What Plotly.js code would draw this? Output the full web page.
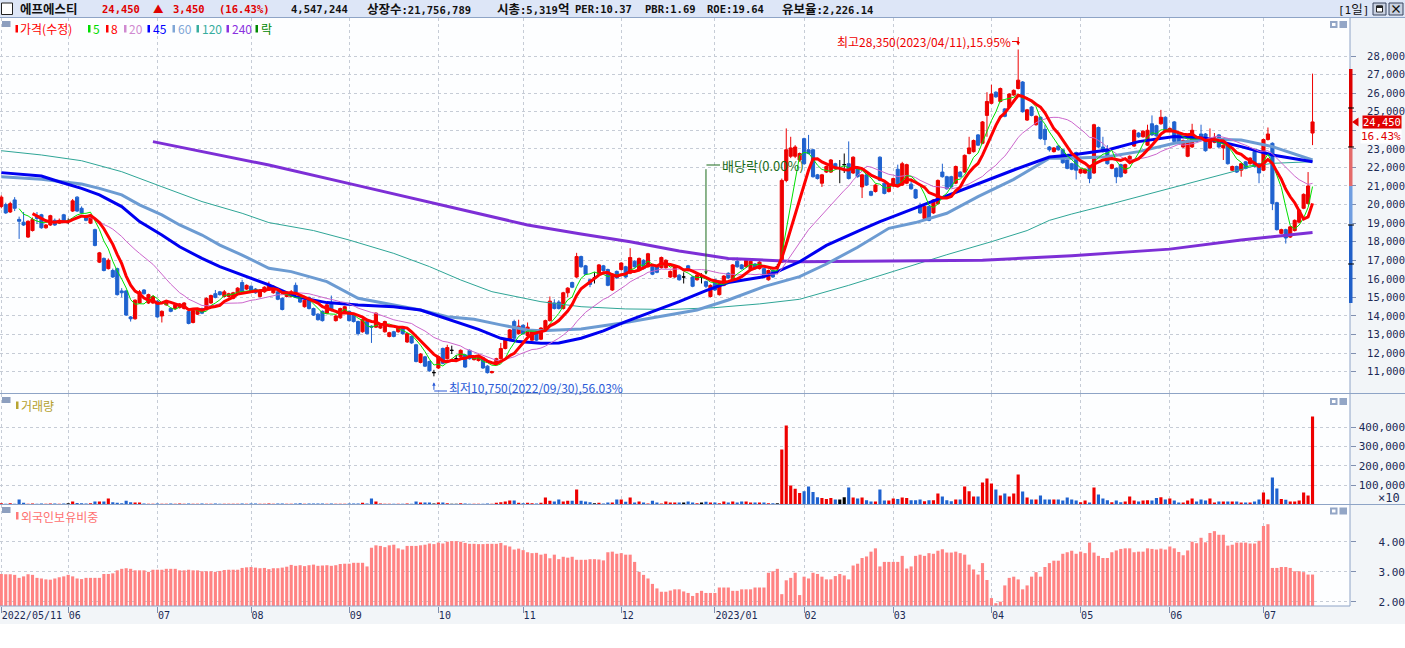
<!DOCTYPE html>
<html><head><meta charset="utf-8">
<script src="https://cdn.plot.ly/plotly-3.0.1.min.js"></script>
<style>html,body{margin:0;padding:0;background:#fff;overflow:hidden}#chart{width:1405px;height:648px}</style>
</head><body><div id="chart"></div>
<script>
// ---------- DATA ----------
const stockName = '에프에스티';
const lastPrice = 24450, prevClose = 21000, changeAbs = '3,450', changePct = '16.43%';
const todayVolume = '4,547,244';
const infoTexts = ['상장수:21,756,789', '시총:5,319억', 'PER:10.37', 'PBR:1.69', 'ROE:19.64', '유보율:2,226.14'];

// trading-day index of each month start, and the labels shown on the date axis
const monthStartIdx = [0,15,35,56,78,98,117,139,160,180,200,222,242,262,283];
const monthLabels = ['2022/05/11','06','07','08','09','10','11','12','2023/01','02','03','04','05','06','07'];

const open = [19900,20000,19600,20250,19200,19050,18250,18600,19400,19450,
18750,18900,19150,19000,19450,19100,19650,20400,19800,19400,
19000,18650,16900,17100,16550,16450,16550,15350,15350,13950,
13850,14700,15400,14700,14700,14800,14000,14600,14400,14400,
14450,14400,14250,13650,14100,14400,14400,14700,15200,15300,
15050,15050,14950,15200,15800,15450,15600,15450,15050,15300,
15400,15250,15300,14950,15050,15050,15650,15050,14500,15000,
14400,14100,14250,14150,14700,13750,13900,14200,14250,14050,
13700,13150,13700,13450,13400,13350,13150,12900,13150,13150,
13350,12600,12900,12450,11500,11800,11550,10950,11200,12250,
11700,12150,11700,11800,11900,12150,11650,11600,11750,11300,
10950,11450,11700,12250,12700,13700,13050,13500,12950,12700,
13050,12750,13300,13750,14700,14750,14400,15250,15800,16100,
17200,16700,15950,16050,16250,16700,16500,15400,16400,16500,
16650,16300,16950,16450,17000,16650,16650,16650,16600,16600,
16100,16100,16200,16100,16700,16100,15950,16100,15850,15050,
15950,15150,15650,16300,15950,16950,16750,16650,16500,16800,
16550,16550,15950,16450,16650,16900,21300,22600,22600,22400,
23550,22950,22950,21600,21150,21750,21750,22200,21950,22150,
22200,21700,21950,20950,21600,20700,20700,22550,21150,20700,
21000,21900,21050,21150,21100,20800,19950,19250,19900,19550,
20050,21750,21500,21500,21150,21750,21750,22750,22850,23750,
23300,24800,25450,26050,25550,25150,25250,25900,26250,26600,
24550,25250,24300,24700,24050,23100,22850,23150,22950,22400,
22200,22800,21700,21700,22050,21700,24150,23100,23000,21950,
21950,22150,21700,22400,23150,23850,23650,23200,24350,24250,
24350,24700,23950,24450,23850,23100,22600,23100,23650,23800,
23800,23050,23350,23750,23050,23150,21850,22050,21850,22300,
22200,22850,22200,21850,23500,23300,20100,18450,18650,18250,
18600,19050,19800,20050,23850];

const high = [20500,20100,20150,20400,19350,19600,19150,19300,19600,19500,
18950,19450,19250,19250,19500,19250,20300,20450,19900,19450,
19450,18700,17450,17150,17100,16550,16600,15500,15400,14000,
14900,15400,15450,15200,15100,14850,14300,14750,14450,14650,
14700,14750,14300,14350,14350,14450,15000,15150,15400,15350,
15400,15250,15300,15550,15950,15700,15650,15500,15450,15600,
15850,15650,15350,15000,15300,15400,15800,15100,14900,15050,
14450,14150,14300,14700,15100,14050,14450,14550,14300,14100,
13750,13850,13750,13500,14200,13600,13750,13150,13200,13400,
13400,13100,12950,12500,12000,11850,11600,11100,11850,12300,
12450,12400,11900,12200,11950,12200,11850,11850,11800,11350,
11050,11750,12550,12800,13300,13800,13800,13550,13650,13300,
13100,13400,13800,15050,14900,14850,15300,15550,15850,17400,
17250,16750,16000,16350,16800,16750,16550,16300,16450,16900,
16700,17650,17000,17150,17050,17400,16700,16700,17200,17050,
16450,16700,16250,16350,16750,16150,16250,16300,15900,15700,
16000,15800,16200,16350,16800,17150,16800,17050,17000,16850,
16950,16600,16500,16500,16800,21400,24100,23650,23200,22800,
23600,23750,23000,21650,21650,22100,22450,22250,22400,22750,
23400,22600,22000,21650,21650,20750,21100,22600,21200,21100,
21450,22150,22300,22200,21400,20850,20100,19950,19950,20300,
21350,22200,21550,21550,22100,21800,22700,23650,23500,23800,
24500,26050,26450,26100,26300,25200,26000,26200,28350,26650,
25150,25300,24800,24750,24300,23150,23100,23200,23000,22450,
22250,22850,21950,21950,22100,24350,24200,23650,23200,22200,
22000,22200,22200,22650,24050,23900,24000,24300,24800,24300,
25100,24750,24150,24500,23900,23500,23500,24350,23700,24300,
23850,24100,23850,23800,23250,23200,22100,22100,22250,22350,
22550,22900,22250,23550,24150,23350,20150,18700,18700,18850,
19200,19750,20600,21750,27050];

const low = [19800,19500,19550,19650,18150,18850,18200,18550,18950,18700,
18700,18850,18850,18950,19000,18950,19600,19600,19500,19100,
18950,17750,16850,16400,16500,16050,15100,15000,14000,13700,
13800,14650,15150,14650,14650,13900,13650,14550,14200,14350,
14400,14350,13550,13600,14050,14100,14350,14650,14950,15100,
15000,15000,14900,15150,15250,15400,15250,15200,15000,15250,
15350,15200,14850,14300,15000,15000,15100,14700,14450,14350,
14000,13750,13700,14100,14250,13700,13850,14150,13700,13650,
12950,13100,13000,12550,13350,13300,13100,12850,12850,13100,
13000,12550,12500,11500,11450,11250,11000,10750,11150,11400,
11650,11950,11550,11750,11200,11650,11600,11550,11150,10900,
10900,11400,11650,12200,12650,12750,13000,13000,12900,12650,
12650,12700,13250,13700,14350,14350,14350,15000,15500,16050,
16600,16200,15550,15750,16200,16400,15600,15350,16000,16450,
16050,16250,16600,16400,16500,16600,16200,16300,16550,16550,
16050,16050,15900,15750,16400,15550,15900,15750,15500,15000,
15350,15100,15600,16000,15900,16600,16500,16600,16450,16500,
16500,16050,15900,16050,16250,16850,21200,22500,22500,22300,
22150,22700,21450,21350,20950,21700,21700,21900,21150,21700,
21350,21650,21450,20350,21000,20450,20650,21250,20550,20650,
20950,20950,21000,21100,20800,20300,19500,19200,19100,19500,
20000,21450,20800,20900,21100,21450,21700,22700,22800,23150,
23250,23650,25400,25750,25500,24700,25200,25850,26200,24950,
24500,24750,24250,23500,23200,22850,22800,22900,22200,21900,
21850,21350,21650,21650,21150,21650,23050,22800,22150,21900,
21150,21450,21650,22350,23100,23600,23600,23150,23700,23650,
24300,23900,23900,23350,23250,23050,22550,23050,23350,23600,
22850,23000,23300,23050,22400,22150,21800,21700,21500,21900,
22150,22000,21150,21800,23450,19700,18600,18400,17900,18200,
18550,19000,19750,20000,23200];

const close = [20400,19550,20050,19800,19100,18900,19100,19200,19250,18750,
18900,19400,18900,19150,19100,19100,20200,19650,19550,19150,
19400,17800,17400,16450,17000,16100,15150,15250,14050,13850,
14850,15300,15200,15150,15050,13950,14250,14700,14250,14600,
14650,14700,13600,14300,14300,14150,14950,15100,15000,15150,
15300,15200,15250,15500,15300,15650,15300,15250,15400,15550,
15700,15600,14900,14350,15250,15300,15150,14750,14850,14400,
14050,13800,13750,14600,14300,14000,14400,14500,13750,13700,
13050,13800,13050,13400,14150,13500,13700,13100,12900,13350,
13050,13050,12550,11550,11950,11300,11050,10950,11800,11450,
12300,12150,11700,12150,11250,11700,11800,11800,11200,10950,
11000,11700,12250,12750,13250,12800,13450,13050,13400,13250,
12700,13350,13750,14800,14400,14400,15250,15500,15550,17200,
16650,16250,15700,16050,16750,16450,15650,16250,16050,16850,
16100,17150,16650,17100,16550,17350,16250,16350,17150,17000,
16400,16650,15950,16100,16450,15600,16200,16100,15600,15650,
15400,15750,16150,16050,16750,16650,16550,17000,16950,16550,
16900,16100,16450,16100,16650,21300,22950,23050,23100,22750,
22200,22750,21500,21400,21600,22050,22400,21950,21950,22150,
21400,22550,21500,21600,21050,20500,21050,21300,20600,21050,
21400,21000,22200,22150,20850,20350,19550,19900,19150,20250,
21300,21500,20850,20950,22050,21500,22650,23050,23450,23200,
24450,25550,25950,25800,26250,24750,25950,26150,26700,25000,
25100,24800,24750,23550,23500,22950,23050,22950,22250,21950,
21900,21850,21900,21900,21400,24300,23100,22850,22200,22150,
21500,21500,22150,22600,24000,23650,23950,24000,23750,23700,
24700,23950,24100,23400,23300,23450,23450,24000,23400,23650,
22900,23550,23600,23100,23200,22200,22050,21750,22200,21950,
22500,22050,21700,23500,23800,20050,18650,18650,18200,18800,
19150,19700,20550,21000,24450];

// volume in axis units (x10 shares)
const volume = [7000,4000,7000,4000,26000,9000,4000,5000,4000,5000,
4000,5000,5000,4000,5000,7000,15000,8000,6000,5000,
6000,15000,15000,15000,31000,12000,9000,6000,20000,12000,
10000,10000,5000,4000,4000,5000,4000,4000,5000,4000,
5000,4000,5000,4000,4000,5000,4000,4000,5000,4000,
4000,4000,4000,4000,5000,4000,5000,5000,4000,4000,
5000,4000,5000,5000,4000,4000,5000,7000,4000,5000,
5000,5000,5000,4000,5000,4000,4000,4000,5000,5000,
5000,9000,5000,31000,15000,5000,4000,4000,4000,4000,
4000,5000,4000,15000,10000,10000,10000,5000,10000,10000,
6000,4000,4000,6000,5000,4000,4000,4000,4000,5000,
4000,9000,12000,15000,21000,21000,9000,6000,9000,6000,
5000,9000,36000,20000,15000,26000,15000,20000,20000,78000,
20000,15000,12000,7000,9000,5000,10000,10000,26000,26000,
14000,36000,10000,15000,10000,5000,20000,10000,5000,15000,
10000,10000,10000,10000,15000,10000,6000,10000,14000,10000,
10000,7000,15000,10000,15000,10000,15000,15000,10000,10000,
10000,10000,7000,7000,7000,284000,409000,98000,81000,59000,
69000,93000,64000,38000,33000,29000,33000,26000,26000,38000,
88000,36000,31000,36000,22000,16000,16000,78000,21000,21000,
31000,28000,36000,33000,22000,22000,26000,17000,22000,22000,
57000,41000,22000,17000,26000,26000,93000,69000,41000,41000,
114000,134000,109000,78000,47000,57000,41000,57000,155000,67000,
36000,26000,26000,47000,26000,26000,26000,26000,21000,36000,
26000,21000,12000,21000,10000,88000,52000,31000,22000,12000,
21000,12000,16000,41000,21000,16000,21000,22000,21000,34000,
38000,26000,31000,21000,10000,10000,21000,31000,15000,26000,
21000,31000,10000,15000,15000,15000,15000,15000,10000,10000,
10000,15000,26000,62000,26000,140000,83000,29000,24000,15000,
15000,21000,62000,47000,454724];

// foreign ownership ratio (%)
const foreignPct = [2.93,2.92,2.92,2.9,2.8,2.85,2.92,2.9,2.8,2.78,
2.75,2.74,2.78,2.82,2.85,2.9,2.85,2.78,2.76,2.8,
2.8,2.8,2.8,2.93,2.93,2.95,3.05,3.1,3.12,3.1,
3.05,3.05,3.05,3.0,3.07,3.07,3.07,3.1,3.1,3.1,
3.05,3.05,3.07,3.05,3.05,3.02,3.02,3.02,3.0,3.03,
3.06,3.07,3.07,3.07,3.13,3.15,3.16,3.14,3.12,3.13,
3.09,3.12,3.12,3.14,3.17,3.23,3.2,3.22,3.19,3.22,
3.24,3.2,3.21,3.22,3.2,3.22,3.26,3.27,3.27,3.3,
3.3,3.3,3.18,3.8,3.88,3.86,3.82,3.88,3.9,3.78,
3.74,3.86,3.86,3.86,3.88,3.9,3.94,3.92,3.97,3.94,
4.0,4.02,4.02,4.0,3.96,3.93,3.93,3.92,3.92,3.93,
3.93,3.93,3.96,3.88,3.84,3.74,3.77,3.72,3.65,3.62,
3.63,3.57,3.6,3.45,3.57,3.42,3.5,3.47,3.5,3.4,
3.4,3.4,3.42,3.42,3.41,3.38,3.65,3.67,3.6,3.62,
3.57,3.57,3.33,3.0,2.9,2.78,2.6,2.45,2.34,2.34,
2.38,2.42,2.42,2.35,2.3,2.2,2.3,2.37,2.3,2.3,
2.3,2.48,2.48,2.48,2.37,2.37,2.42,2.42,2.42,2.48,
2.48,2.48,2.97,3.02,3.1,2.26,2.72,2.8,2.97,2.23,
2.84,2.78,2.97,2.93,2.84,2.75,2.75,2.86,2.93,2.88,
2.75,3.21,3.27,3.46,3.51,3.67,3.78,3.18,3.33,3.33,
3.33,3.33,3.53,3.11,3.18,3.53,3.57,3.53,3.62,3.6,
3.7,3.75,3.64,3.64,3.67,3.62,3.57,3.24,3.08,2.91,
3.29,2.73,2.13,1.96,2.01,2.55,2.8,2.84,2.75,2.42,
2.55,2.84,2.99,2.84,3.16,3.29,3.37,3.37,3.6,3.65,
3.7,3.6,3.67,3.62,3.97,3.64,3.53,3.46,3.46,3.65,
3.71,3.76,3.78,3.78,3.65,3.67,3.67,3.78,3.76,3.74,
3.77,3.74,3.84,3.78,3.66,3.55,3.71,4.0,3.95,4.13,
3.98,4.29,4.35,4.23,4.23,3.87,3.9,3.97,3.97,3.97,
3.94,3.94,4.03,4.52,4.58,3.13,3.13,3.16,3.16,3.13,
3.02,3.02,2.99,2.91,2.91];

// long moving averages (trading-day index, value)
const ma45Idx = [0,9,13,18,22,27,31,36,40,45,49,54,60,66,73,80,88,94,98,103,107,112,116,121,125,130,135,140,147,152,158,163,171,174,179,185,193,197,205,212,219,227,235,240,248,255,263,270,278,285,294];
const ma45Val = [21720,21540,21230,20870,20520,19890,19080,18360,17730,17100,16660,16210,15670,15040,14720,14590,14500,14320,14000,13600,13280,12800,12620,12530,12550,12800,13200,13700,14320,14770,15370,15800,16120,16390,16920,17800,18670,19080,19820,20470,21160,21860,22560,22670,22940,23390,23660,23570,23120,22670,22310];
const ma60Idx = [0,9,18,22,27,31,36,40,45,49,54,60,65,73,80,88,94,100,106,112,118,121,130,140,150,156,163,171,179,185,192,199,205,212,219,227,235,240,248,255,263,270,278,285,294];
const ma60Val = [21500,21360,21110,20870,20520,19980,19440,18900,18360,17820,17280,16570,16390,15850,14950,14590,14320,13960,13820,13520,13250,13210,13300,13650,14050,14320,14860,15580,16120,16800,17700,18720,19030,19530,20430,21360,22490,22490,22580,22850,23300,23530,23480,23120,22400];
const ma120Idx = [0,9,18,27,36,45,54,60,70,78,88,96,103,110,121,130,140,150,160,170,179,190,200,212,222,230,235,240,248,255,263,270,276,281,285,294];
const ma120Val = [22900,22670,22360,21770,20960,20160,19530,19030,18600,18090,17370,16660,15940,15310,14770,14500,14380,14350,14450,14650,14900,15650,16400,17300,18000,18600,19150,19490,19980,20430,20960,21410,21770,22080,22220,22310];
const ma240Idx = [34,45,60,80,100,118,130,141,152,163,179,200,220,240,262,278,294];
const ma240Val = [23390,22850,22130,21020,19900,18900,18420,18000,17500,17100,16920,16950,17000,17250,17600,18090,18490];

const priceTicks = [11000,12000,13000,14000,15000,16000,17000,18000,19000,20000,21000,22000,23000,24000,25000,26000,27000,28000];
const priceLabelTicks = [11000,12000,13000,14000,15000,16000,17000,18000,19000,20000,21000,22000,23000,25000,26000,27000,28000]; // 24,000 is hidden behind the price tag
const volumeTicks = [100000,200000,300000,400000];
const foreignTicks = [2,3,4];

const highIdx = 228, lowIdx = 97, exDivIdx = 158;
const highLabel = '최고28,350(2023/04/11),15.95%';
const lowLabel = '최저10,750(2022/09/30),56.03%';
const exDivLabel = '배당락(0.00%)';

// ---------- STYLE ----------
const W = 1405, H = 648, TOP = 18, BOT = 606, PLOT_R = 1350;
const PX = x => x / W;
const PY = y => (BOT - y) / (BOT - TOP);
const RED = '#ee0000', BLUE = '#1f62cf', BLACK = '#000000';
const NUMF = 'DejaVu Sans Mono, monospace';
const KRF = 'Noto Sans CJK KR, sans-serif';
const HDRF = 'DejaVu Sans Mono, Noto Sans CJK KR, monospace';
const AXC = '#1b2a55';
const BORDER = '#8ea4c6';
const GRID = '#c6ccd6';

const idx = close.map((_, i) => i);
const isDoji = close.map((c, i) => c === open[i]);
const keep = (arr, f) => arr.map((v, i) => f(i) ? v : null);
function sma(src, n) { return src.map((_, i) => i < n - 1 ? null : src.slice(i - n + 1, i + 1).reduce((a, b) => a + b, 0) / n); }
const dirColor = close.map((c, i) => c > open[i] ? RED : (c < open[i] ? BLUE : BLACK));

const traces = [];
traces.push({type:'candlestick', x:idx, open:keep(open,i=>!isDoji[i]), high:keep(high,i=>!isDoji[i]), low:keep(low,i=>!isDoji[i]), close:keep(close,i=>!isDoji[i]),
  increasing:{line:{color:RED,width:1}, fillcolor:RED}, decreasing:{line:{color:BLUE,width:1}, fillcolor:BLUE}, whiskerwidth:0, xaxis:'x', yaxis:'y', hoverinfo:'skip'});
traces.push({type:'candlestick', x:idx, open:keep(open,i=>isDoji[i]), high:keep(high,i=>isDoji[i]), low:keep(low,i=>isDoji[i]), close:keep(close,i=>isDoji[i]),
  increasing:{line:{color:BLACK,width:1}, fillcolor:BLACK}, decreasing:{line:{color:BLACK,width:1}, fillcolor:BLACK}, whiskerwidth:0, xaxis:'x', yaxis:'y', hoverinfo:'skip'});
const line = (x, y, color, width) => ({type:'scatter', mode:'lines', x, y, line:{color, width}, xaxis:'x', yaxis:'y', hoverinfo:'skip', connectgaps:false});
traces.push(line(ma120Idx, ma120Val, '#2ea596', 1));
traces.push(line(ma240Idx, ma240Val, '#7d2fd6', 3));
traces.push(line(ma60Idx, ma60Val, '#6c9bd2', 3));
traces.push(line(ma45Idx, ma45Val, '#0000f0', 3));
traces.push(line(idx, sma(close, 20), '#cc66cc', 1));
traces.push(line(idx, sma(close, 5), '#00e000', 1));
traces.push(line(idx, sma(close, 8), '#ff0000', 3));
traces.push({type:'bar', x:idx, y:volume, marker:{color:dirColor, line:{width:0}}, xaxis:'x', yaxis:'y2', hoverinfo:'skip'});
traces.push({type:'bar', x:idx, y:foreignPct, marker:{color:'#ff8383', line:{width:0}}, xaxis:'x', yaxis:'y3', hoverinfo:'skip'});

const shapes = [];
const rectPx = (x0, y0, x1, y1, fill, lineColor, layer) => shapes.push({type:'rect', xref:'paper', yref:'paper', x0:PX(x0), x1:PX(x1), y0:PY(y1), y1:PY(y0), fillcolor:fill, line:{color:lineColor||fill, width:lineColor?1:0}, layer:layer||'above'});
const linePx = (x0, y0, x1, y1, color, width) => shapes.push({type:'line', xref:'paper', yref:'paper', x0:PX(x0), x1:PX(x1), y0:PY(y0), y1:PY(y1), line:{color, width:width||1}});

// backgrounds: header, right axis strip, date band
rectPx(0, 0, W, 17.5, '#dde6f7', null, 'below');
rectPx(PLOT_R, 17.5, W, 624, '#f2f5f8', null, 'below');
rectPx(0, 606, W, 624, '#f2f5f8', null, 'below');
linePx(0, 17.5, W, 17.5, BORDER);
linePx(0, 393.5, W, 393.5, BORDER);
linePx(0, 504.5, W, 504.5, BORDER);
linePx(0, 606, PLOT_R, 606, BORDER);
linePx(PLOT_R, 17.5, PLOT_R, 606, BORDER);
// header checkbox and window buttons
rectPx(1.5, 3, 12.5, 14.5, '#ffffff', '#222222');
rectPx(1373, 3, 1386, 15, '#c9d1e1', '#39445e');
rectPx(1376.5, 6, 1382.5, 12, '#ffffff', '#222222');
rectPx(1376.5, 6, 1382.5, 7.5, '#222222', '#222222');
rectPx(1389, 3, 1403, 15, '#c9d1e1', '#39445e');
// panel legend squares and icons
[[21,27],[397,403],[507,513]].forEach(([a,b]) => rectPx(2, a, 10.5, b, '#8d9fbf'));
[[21,28],[398,405],[507.5,514.5]].forEach(([a,b]) => { rectPx(1330, a, 1337.5, b, '#93a6c6'); rectPx(1332, a+2, 1335.5, b-2, '#ffffff'); rectPx(1339.5, a, 1347, b, '#93a6c6'); });

// legend colour bars
const legendItems = [
  {x:15.5, label:'가격(수정)', tx:20, color:'#ff0000'},
  {x:88, label:'5', tx:92.5, color:'#00dd00'},
  {x:106, label:'8', tx:111, color:'#ff0000'},
  {x:124, label:'20', tx:129, color:'#d08ad0'},
  {x:147.5, label:'45', tx:152.5, color:'#0000ff'},
  {x:172.5, label:'60', tx:177.5, color:'#7fa6d6'},
  {x:196.5, label:'120', tx:201.5, color:'#36ad9e'},
  {x:226.5, label:'240', tx:231.5, color:'#8a32e0'},
  {x:255.5, label:'락', tx:260.5, color:'#008800'}
];
legendItems.forEach(it => rectPx(it.x, 25, it.x + 2.5, 32.5, it.color));
rectPx(16, 401.5, 18.5, 409, '#b8a532');
rectPx(16, 512, 18.5, 519.5, '#ff7a7a');

// daily price-limit band on the price axis (prev close +-10/20/30%)
const band = (lo, hi, color) => shapes.push({type:'rect', xref:'paper', yref:'y', x0:PX(1349), x1:PX(1352.5), y0:lo, y1:hi, fillcolor:color, line:{width:0}});
band(prevClose*1.1, prevClose*1.3, '#dd0000');
band(prevClose, prevClose*1.1, '#e46a6a');
band(prevClose*0.9, prevClose, '#6f9de0');
band(prevClose*0.7, prevClose*0.9, '#1f5fc8');
[1.2, 1.1, 0.9, 0.8].forEach(k => shapes.push({type:'line', xref:'paper', yref:'y', x0:PX(1348), x1:PX(1354), y0:prevClose*k, y1:prevClose*k, line:{color:'#000', width:1}}));
// current price pointer
shapes.push({type:'path', xref:'paper', yref:'y', path:`M ${PX(1358.5)} ${lastPrice+240} L ${PX(1352)} ${lastPrice} L ${PX(1358.5)} ${lastPrice-240} Z`, fillcolor:'#e00000', line:{width:0}});

// connector lines of the chart notes
const xPx = i => 1.3 + i * 4.463;
linePx(1012, 41.5, xPx(highIdx), 41.5, '#ee0000');
linePx(xPx(lowIdx), 391, 447, 391, '#2a5bd7');
linePx(xPx(exDivIdx), 165, 720, 165, '#1a6b1a');

const ann = [];
const pa = (x, y, text, color, size, family, anchor, extra) => ann.push(Object.assign({xref:'paper', yref:'paper', x:PX(x), y:PY(y), text, showarrow:false, xanchor:anchor||'left', yanchor:'middle', borderpad:0, font:{color, size, family}}, extra||{}));
const kr = s => s.replace(/([\uAC00-\uD7A3]+)/g, '<span style="font-family:Noto Sans CJK KR;font-size:12.5px">$1</span>');
// header
pa(19, 9, '<b>' + kr(stockName) + '</b>', '#111', 10.5, HDRF);
pa(101, 9, '<b>24,450</b>', '#e00000', 10.5, HDRF);
pa(152, 9, '<b>▲</b>', '#e00000', 10.5, KRF);
pa(172, 9, '<b>' + changeAbs + '</b>', '#e00000', 10.5, HDRF);
pa(218, 9, '<b>(' + changePct + ')</b>', '#e00000', 10.5, HDRF);
pa(290, 9, '<b>' + todayVolume + '</b>', '#111', 10.5, HDRF);
[366, 496, 574, 644, 706, 781].forEach((x, k) => pa(x, 9, '<b>' + kr(infoTexts[k]) + '</b>', '#111', 10.5, HDRF));
pa(1337, 9, '[' + kr('1일') + ']', '#111', 11, HDRF);
pa(1396, 8.5, '<b>×</b>', '#111', 12, KRF, 'center');
// legends
legendItems.forEach(it => pa(it.tx - 1, 29, it.label, it.color, 12, KRF));
pa(20, 405.5, '거래량', '#b4a02c', 12, KRF);
pa(20, 516, '외국인보유비중', '#ff7070', 12, KRF);
// notes
pa(1012, 41.5, highLabel, '#ee0000', 12, KRF, 'right');
pa(448, 387, lowLabel, '#2a5bd7', 12, KRF);
pa(721, 165, exDivLabel, '#1a6b1a', 13, KRF);
ann.push({xref:'x', yref:'y', x:highIdx, y:high[highIdx], yshift:4, ax:0, ay:-10, text:'', showarrow:true, arrowhead:2, arrowsize:0.7, arrowwidth:1, arrowcolor:'#ee0000'});
ann.push({xref:'x', yref:'y', x:lowIdx, y:low[lowIdx], yshift:-6, ax:0, ay:9, text:'', showarrow:true, arrowhead:2, arrowsize:0.7, arrowwidth:1, arrowcolor:'#2a5bd7'});
ann.push({xref:'x', yref:'y', x:exDivIdx, y:high[exDivIdx], yshift:6, ax:0, ay:-107, text:'', showarrow:true, arrowhead:2, arrowsize:0.7, arrowwidth:1, arrowcolor:'#1a6b1a'});
// axis price marker
ann.push({xref:'paper', yref:'y', x:PX(1402), y:lastPrice, xanchor:'right', yanchor:'middle', text:'24,450', showarrow:false, bgcolor:'#e00000', borderpad:0, font:{family:NUMF, size:10.5, color:'#ffffff'}});
pa(1402, 136.5, changePct, '#e00000', 11, NUMF, 'right', {bgcolor:'#ffffff'});
pa(1401, 498, '×10', AXC, 12, NUMF, 'right');

const gridAxis = {showgrid:true, gridcolor:GRID, griddash:'dot', gridwidth:1, zeroline:false, showline:false, fixedrange:true};
const labelAxis = (ov, range, vals, fmt, size) => ({overlaying:ov, anchor:'free', position:1, side:'left', range, tickmode:'array', tickvals:vals, tickformat:fmt, showgrid:false, zeroline:false, showline:false, ticks:'', tickfont:{family:NUMF, size:size||11, color:AXC}, fixedrange:true});
const priceRange = [9826, 30046], volRange = [0, 574000], forRange = [1.867, 5.234];

const layout = {
  width:W, height:H, margin:{l:0, r:0, t:TOP, b:H-BOT, pad:0, autoexpand:false},
  paper_bgcolor:'#ffffff', plot_bgcolor:'#fdfeff', showlegend:false, hovermode:false, dragmode:false,
  bargap:0.3, boxgap:0.3, boxgroupgap:0,
  xaxis:Object.assign({}, gridAxis, {domain:[0, PX(PLOT_R)], range:[-0.29, 302.4], anchor:'y3', tickmode:'array', tickvals:monthStartIdx, ticktext:monthLabels,
    ticks:'outside', ticklen:6, tickcolor:'#7f8fb0', ticklabelposition:'outside right', tickfont:{family:NUMF, size:10, color:AXC}, rangeslider:{visible:false}}),
  yaxis:Object.assign({}, gridAxis, {domain:[PY(393.5), 1], range:priceRange, side:'right', anchor:'x', tickmode:'array', tickvals:priceTicks, showticklabels:false, ticks:'outside', ticklen:5, tickcolor:'#7f8fb0'}),
  yaxis2:Object.assign({}, gridAxis, {domain:[PY(504.5), PY(393.5)], range:volRange, side:'right', anchor:'x', tickmode:'array', tickvals:volumeTicks, showticklabels:false, ticks:'outside', ticklen:5, tickcolor:'#7f8fb0'}),
  yaxis3:Object.assign({}, gridAxis, {domain:[0, PY(504.5)], range:forRange, side:'right', anchor:'x', tickmode:'array', tickvals:foreignTicks, showticklabels:false, ticks:'outside', ticklen:5, tickcolor:'#7f8fb0'}),
  yaxis4:labelAxis('y', priceRange, priceLabelTicks, ',d', 10.5),
  yaxis5:labelAxis('y2', volRange, volumeTicks, ',d'),
  yaxis6:labelAxis('y3', forRange, foreignTicks, '.2f'),
  shapes, annotations:ann
};
// empty traces so the overlay label axes are drawn
traces.push({type:'scatter', x:[null], y:[null], xaxis:'x', yaxis:'y4', hoverinfo:'skip'});
traces.push({type:'scatter', x:[null], y:[null], xaxis:'x', yaxis:'y5', hoverinfo:'skip'});
traces.push({type:'scatter', x:[null], y:[null], xaxis:'x', yaxis:'y6', hoverinfo:'skip'});

Plotly.newPlot('chart', traces, layout, {staticPlot:true, displayModeBar:false});
</script></body></html>
